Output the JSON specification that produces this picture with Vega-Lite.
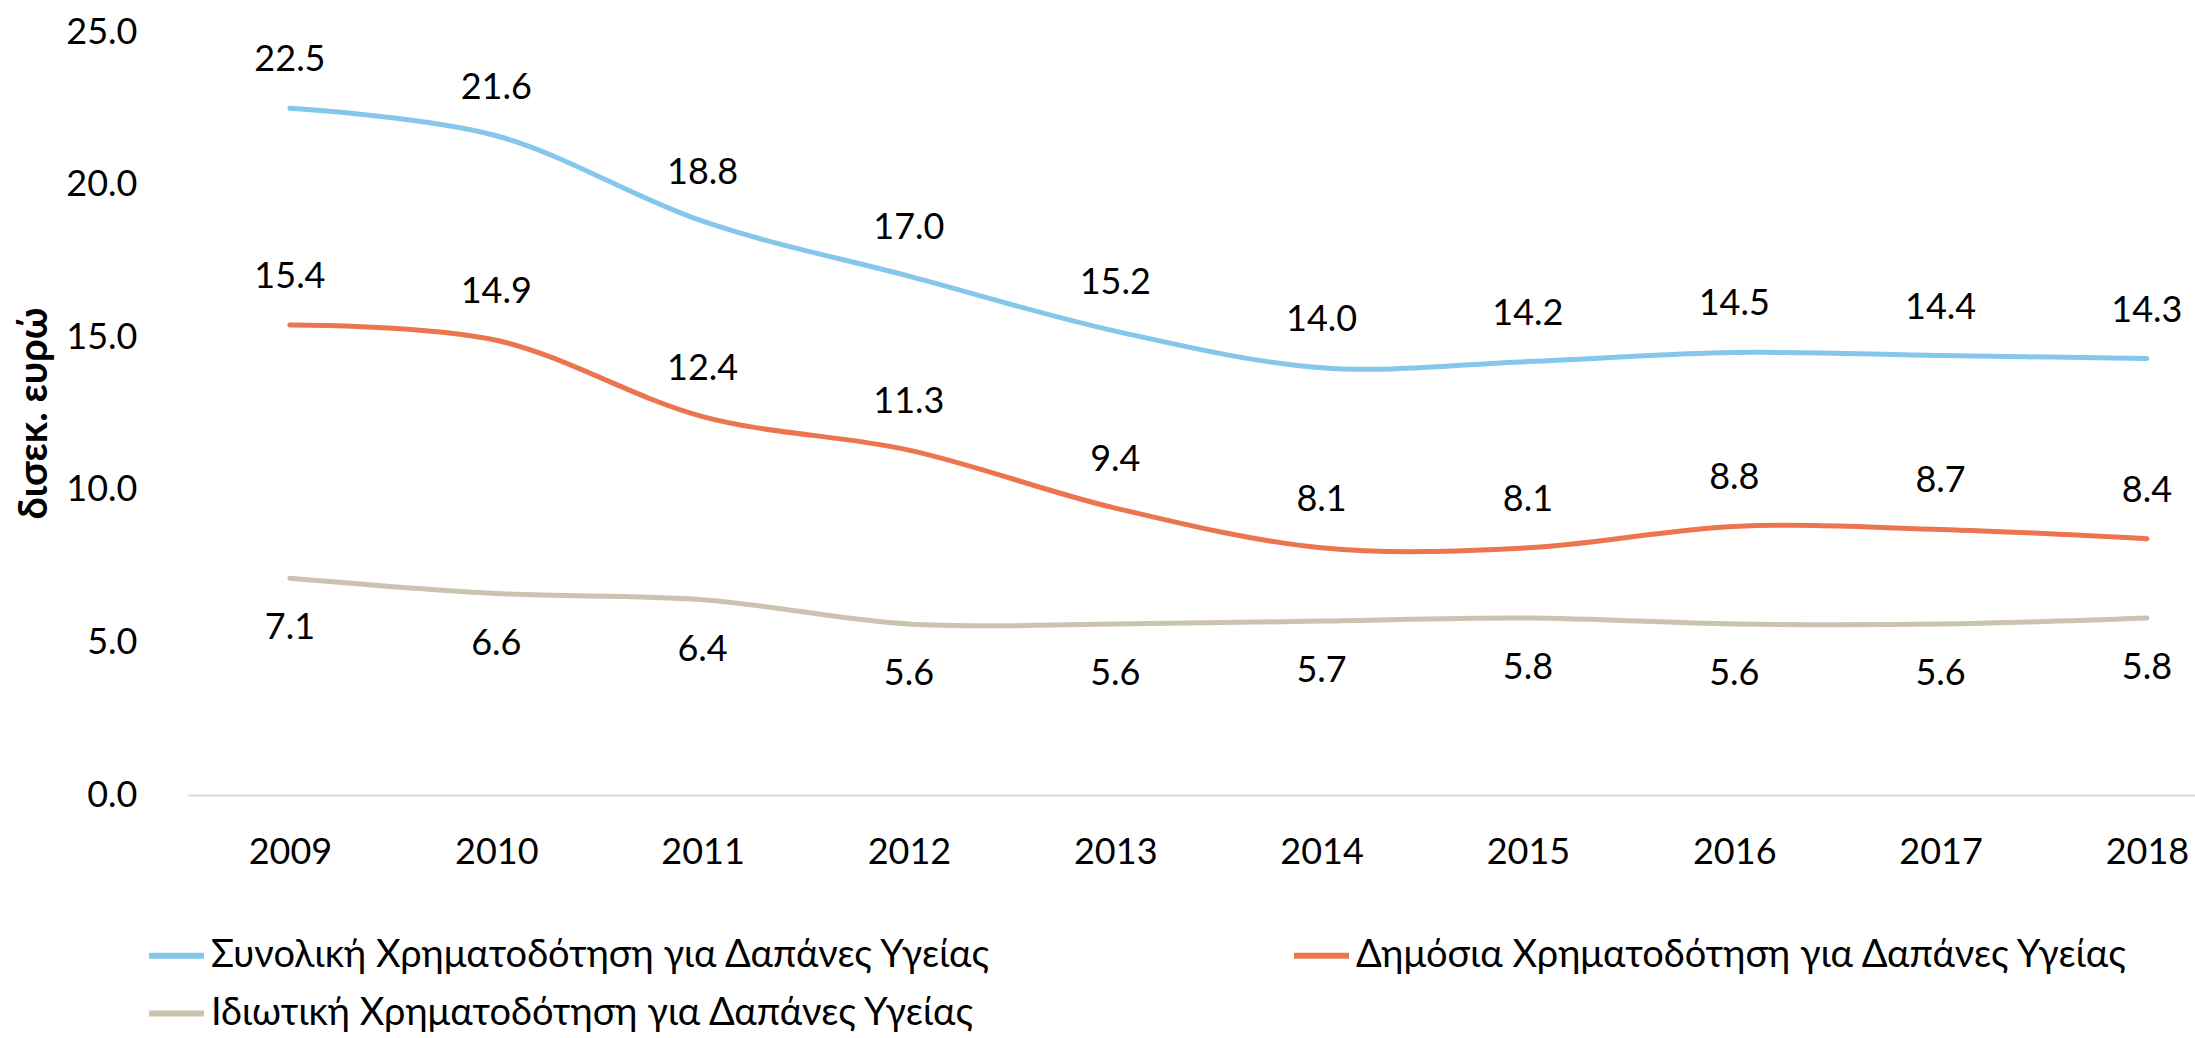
{
  "$schema": "https://vega.github.io/schema/vega-lite/v6.json",
  "autosize": {"type": "none"},
  "padding": {"left": 188, "top": 32, "right": 0, "bottom": 243},
  "width": 2007,
  "height": 763,
  "background": "white",
  "config": {
    "view": {"stroke": null},
    "font": "Lato",
    "text": {"font": "Lato"}
  },
  "data": {
    "values": [
      {"year": 2009, "series": "Συνολική Χρηματοδότηση για Δαπάνες Υγείας", "value": 22.5},
      {"year": 2010, "series": "Συνολική Χρηματοδότηση για Δαπάνες Υγείας", "value": 21.6},
      {"year": 2011, "series": "Συνολική Χρηματοδότηση για Δαπάνες Υγείας", "value": 18.8},
      {"year": 2012, "series": "Συνολική Χρηματοδότηση για Δαπάνες Υγείας", "value": 17.0},
      {"year": 2013, "series": "Συνολική Χρηματοδότηση για Δαπάνες Υγείας", "value": 15.2},
      {"year": 2014, "series": "Συνολική Χρηματοδότηση για Δαπάνες Υγείας", "value": 14.0},
      {"year": 2015, "series": "Συνολική Χρηματοδότηση για Δαπάνες Υγείας", "value": 14.2},
      {"year": 2016, "series": "Συνολική Χρηματοδότηση για Δαπάνες Υγείας", "value": 14.5},
      {"year": 2017, "series": "Συνολική Χρηματοδότηση για Δαπάνες Υγείας", "value": 14.4},
      {"year": 2018, "series": "Συνολική Χρηματοδότηση για Δαπάνες Υγείας", "value": 14.3},
      {"year": 2009, "series": "Δημόσια Χρηματοδότηση για Δαπάνες Υγείας", "value": 15.4},
      {"year": 2010, "series": "Δημόσια Χρηματοδότηση για Δαπάνες Υγείας", "value": 14.9},
      {"year": 2011, "series": "Δημόσια Χρηματοδότηση για Δαπάνες Υγείας", "value": 12.4},
      {"year": 2012, "series": "Δημόσια Χρηματοδότηση για Δαπάνες Υγείας", "value": 11.3},
      {"year": 2013, "series": "Δημόσια Χρηματοδότηση για Δαπάνες Υγείας", "value": 9.4},
      {"year": 2014, "series": "Δημόσια Χρηματοδότηση για Δαπάνες Υγείας", "value": 8.1},
      {"year": 2015, "series": "Δημόσια Χρηματοδότηση για Δαπάνες Υγείας", "value": 8.1},
      {"year": 2016, "series": "Δημόσια Χρηματοδότηση για Δαπάνες Υγείας", "value": 8.8},
      {"year": 2017, "series": "Δημόσια Χρηματοδότηση για Δαπάνες Υγείας", "value": 8.7},
      {"year": 2018, "series": "Δημόσια Χρηματοδότηση για Δαπάνες Υγείας", "value": 8.4},
      {"year": 2009, "series": "Ιδιωτική Χρηματοδότηση για Δαπάνες Υγείας", "value": 7.1},
      {"year": 2010, "series": "Ιδιωτική Χρηματοδότηση για Δαπάνες Υγείας", "value": 6.6},
      {"year": 2011, "series": "Ιδιωτική Χρηματοδότηση για Δαπάνες Υγείας", "value": 6.4},
      {"year": 2012, "series": "Ιδιωτική Χρηματοδότηση για Δαπάνες Υγείας", "value": 5.6},
      {"year": 2013, "series": "Ιδιωτική Χρηματοδότηση για Δαπάνες Υγείας", "value": 5.6},
      {"year": 2014, "series": "Ιδιωτική Χρηματοδότηση για Δαπάνες Υγείας", "value": 5.7},
      {"year": 2015, "series": "Ιδιωτική Χρηματοδότηση για Δαπάνες Υγείας", "value": 5.8},
      {"year": 2016, "series": "Ιδιωτική Χρηματοδότηση για Δαπάνες Υγείας", "value": 5.6},
      {"year": 2017, "series": "Ιδιωτική Χρηματοδότηση για Δαπάνες Υγείας", "value": 5.6},
      {"year": 2018, "series": "Ιδιωτική Χρηματοδότηση για Δαπάνες Υγείας", "value": 5.8}
    ]
  },
  "encoding": {
    "x": {
      "field": "year",
      "type": "quantitative",
      "scale": {"domain": [2008.506, 2018.233], "nice": false, "zero": false},
      "axis": {
        "title": null,
        "values": [2009, 2010, 2011, 2012, 2013, 2014, 2015, 2016, 2017, 2018],
        "format": "d",
        "grid": false,
        "ticks": false,
        "tickSize": 0,
        "domain": true,
        "domainColor": "#D9D9D9",
        "domainWidth": 2,
        "labelFont": "Lato",
        "labelFontSize": 36,
        "labelColor": "#000000",
        "labelPadding": 40,
        "labelFlush": false,
        "labelOverlap": false
      }
    },
    "y": {
      "field": "value",
      "type": "quantitative",
      "scale": {"domain": [0, 25], "nice": false},
      "axis": {
        "title": "δισεκ. ευρώ",
        "titleFont": "Lato",
        "titleFontSize": 40,
        "titleFontWeight": "bold",
        "titleColor": "#000000",
        "titleAngle": 270,
        "titleAlign": "center",
        "titleBaseline": "middle",
        "titleX": -154,
        "titleY": 381,
        "values": [0, 5, 10, 15, 20, 25],
        "format": ".1f",
        "grid": false,
        "ticks": false,
        "tickSize": 0,
        "domain": false,
        "labelFont": "Lato",
        "labelFontSize": 36,
        "labelColor": "#000000",
        "labelPadding": 51,
        "labelFlush": false,
        "labelOverlap": false
      }
    }
  },
  "layer": [
    {
      "mark": {"type": "line", "interpolate": "cardinal", "tension": 0, "strokeWidth": 5, "strokeCap": "round"},
      "encoding": {
        "color": {
          "field": "series",
          "type": "nominal",
          "scale": {
            "domain": ["Συνολική Χρηματοδότηση για Δαπάνες Υγείας", "Δημόσια Χρηματοδότηση για Δαπάνες Υγείας", "Ιδιωτική Χρηματοδότηση για Δαπάνες Υγείας"],
            "range": ["#85C6EB", "#EC7550", "#CBC2B0"]
          },
          "legend": {
            "title": null,
            "orient": "none",
            "direction": "horizontal",
            "legendX": -42,
            "legendY": 893,
            "columns": 2,
            "columnPadding": 290,
            "rowPadding": 8,
            "symbolType": "stroke",
            "symbolSize": 3025,
            "symbolStrokeWidth": 6,
            "labelFont": "Lato",
            "labelFontSize": 38,
            "labelColor": "#000000",
            "labelOffset": 4,
            "labelLimit": 2000
          }
        }
      }
    },
    {
      "transform": [{"filter": "datum.series !== 'Ιδιωτική Χρηματοδότηση για Δαπάνες Υγείας'"}],
      "mark": {"type": "text", "dy": -48, "fontSize": 36, "font": "Lato", "color": "#000000", "baseline": "middle", "align": "center"},
      "encoding": {"text": {"field": "value", "type": "quantitative", "format": ".1f"}}
    },
    {
      "transform": [{"filter": "datum.series === 'Ιδιωτική Χρηματοδότηση για Δαπάνες Υγείας'"}],
      "mark": {"type": "text", "dy": 50, "fontSize": 36, "font": "Lato", "color": "#000000", "baseline": "middle", "align": "center"},
      "encoding": {"text": {"field": "value", "type": "quantitative", "format": ".1f"}}
    }
  ]
}
